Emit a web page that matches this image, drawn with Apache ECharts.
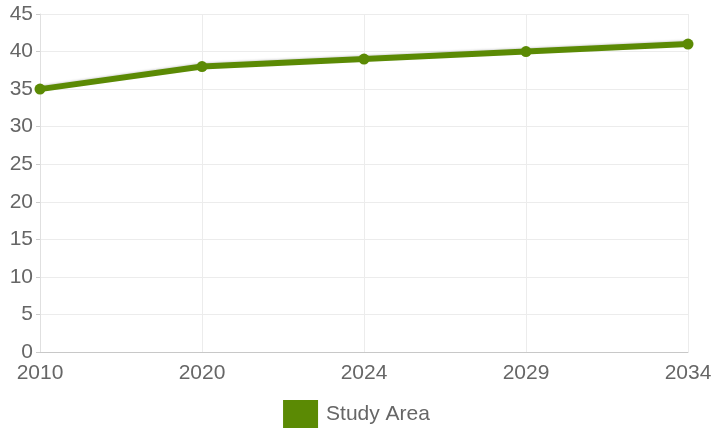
<!DOCTYPE html>
<html>
<head>
<meta charset="utf-8">
<script src="https://cdn.jsdelivr.net/npm/echarts@6/dist/echarts.min.js"></script>
<style>
    html, body { margin: 0; padding: 0; background: #fff; }
    #chart { width: 713px; height: 430px; }
</style>
</head>
<body>
<div id="chart"></div>
<script>
    // data
    let years = ['2010', '2020', '2024', '2029', '2034'];
    let studyArea = [35, 38, 39, 40, 41];
    let yTicks = { min: 0, max: 45, interval: 5 };

    let chart = echarts.init(document.getElementById('chart'));
    let font = '"Liberation Sans", Arial, sans-serif';

    chart.setOption({
        animation: false,
        textStyle: { fontFamily: font },
        grid: { left: 40, right: 25, top: 14, bottom: 78, containLabel: false, outerBoundsMode: 'none' },
        legend: {
            bottom: 2,
            left: 'center',
            padding: 0,
            itemWidth: 35,
            itemHeight: 28,
            icon: 'rect',
            textStyle: { fontSize: 21, color: '#666', fontFamily: font, padding: [0, 0, 0, 3] },
            data: ['Study Area']
        },
        xAxis: {
            type: 'category',
            boundaryGap: false,
            data: years,
            axisLine: { lineStyle: { color: '#c8c8c8' } },
            axisTick: { show: false },
            axisLabel: { fontSize: 21, color: '#666', margin: 11, fontFamily: font },
            splitLine: { show: true, lineStyle: { color: '#ececec' } }
        },
        yAxis: {
            type: 'value',
            min: yTicks.min,
            max: yTicks.max,
            interval: yTicks.interval,
            axisLine: { show: true, lineStyle: { color: '#e0e0e0' } },
            axisTick: { show: true, length: 4, lineStyle: { color: '#ccc' } },
            axisLabel: { fontSize: 21, color: '#666', margin: 7, fontFamily: font },
            splitLine: { show: true, lineStyle: { color: '#ececec' } }
        },
        series: [
            {
                name: 'Study Area',
                type: 'line',
                data: studyArea,
                symbol: 'circle',
                symbolSize: 11,
                color: '#5b8a04',
                lineStyle: {
                    width: 6,
                    color: '#5b8a04',
                    shadowColor: 'rgba(0,0,0,0.15)',
                    shadowBlur: 2,
                    shadowOffsetY: -1
                },
                itemStyle: { color: '#5b8a04' }
            }
        ]
    });
</script>
</body>
</html>
